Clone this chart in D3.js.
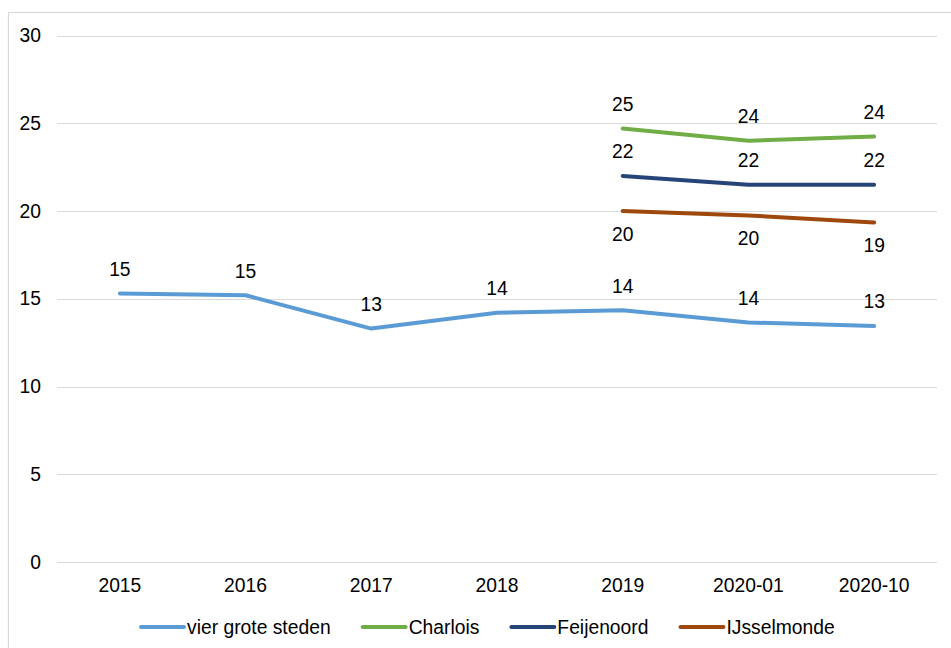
<!DOCTYPE html>
<html>
<head>
<meta charset="utf-8">
<script src="https://cdn.jsdelivr.net/npm/d3@7"></script>
<style>
  html, body { margin: 0; padding: 0; background: #fff; }
  svg { display: block; font-family: "Liberation Sans", Arial, sans-serif; }
</style>
</head>
<body>
<svg id="chart" width="951" height="648"></svg>
<script>
  const categories = ["2015", "2016", "2017", "2018", "2019", "2020-01", "2020-10"];
  const yTicks = [0, 5, 10, 15, 20, 25, 30];

  const vierGroteSteden = [15.3, 15.2, 13.3, 14.2, 14.35, 13.65, 13.45];
  const charlois = [null, null, null, null, 24.7, 24.0, 24.25];
  const feijenoord = [null, null, null, null, 22.0, 21.5, 21.5];
  const ijsselmonde = [null, null, null, null, 20.0, 19.75, 19.35];

  const series = [
    { name: "vier grote steden", values: vierGroteSteden, color: "#5B9BD5", below: false },
    { name: "Charlois", values: charlois, color: "#70AD47", below: false },
    { name: "Feijenoord", values: feijenoord, color: "#264478", below: false },
    { name: "IJsselmonde", values: ijsselmonde, color: "#9E480E", below: true }
  ];

  const svg = d3.select("#chart");
  const fontSize = 19.3;

  // chart frame (only left and top edges fall inside the picture)
  svg.append("rect")
    .attr("x", 8.5).attr("y", 12.5)
    .attr("width", 960).attr("height", 660)
    .attr("fill", "none")
    .attr("stroke", "#d9d9d9")
    .attr("stroke-width", 1.2);

  const x = d3.scaleBand().domain(categories).range([57, 937]);
  const y = d3.scaleLinear().domain([0, 30]).range([562, 35.5]);

  // gridlines
  svg.append("g")
    .selectAll("line")
    .data(yTicks)
    .join("line")
    .attr("x1", 57).attr("x2", 937)
    .attr("y1", d => Math.round(y(d)) + 0.5)
    .attr("y2", d => Math.round(y(d)) + 0.5)
    .attr("stroke", "#d9d9d9")
    .attr("stroke-width", 1);

  // y axis labels
  const yAxis = svg.append("g")
    .attr("transform", "translate(41,0)")
    .call(d3.axisLeft(y).tickValues(yTicks).tickSize(0).tickPadding(0));
  yAxis.select(".domain").remove();
  yAxis.selectAll("text")
    .attr("font-size", fontSize)
    .attr("font-family", "Liberation Sans, Arial, sans-serif")
    .attr("fill", "#000");

  // x axis labels
  const xAxis = svg.append("g")
    .attr("transform", "translate(0,562)")
    .call(d3.axisBottom(x).tickSize(0).tickPadding(16));
  xAxis.select(".domain").remove();
  xAxis.selectAll("text")
    .attr("font-size", fontSize)
    .attr("font-family", "Liberation Sans, Arial, sans-serif")
    .attr("fill", "#000");

  const cx = c => x(c) + x.bandwidth() / 2;

  const line = d3.line()
    .defined(d => d.v != null)
    .x(d => cx(d.c))
    .y(d => y(d.v));

  series.forEach(s => {
    const pts = categories.map((c, i) => ({ c, v: s.values[i] }));
    svg.append("path")
      .datum(pts)
      .attr("d", line)
      .attr("fill", "none")
      .attr("stroke", s.color)
      .attr("stroke-width", 4)
      .attr("stroke-linecap", "round")
      .attr("stroke-linejoin", "round");

    svg.append("g")
      .selectAll("text")
      .data(pts.filter(d => d.v != null))
      .join("text")
      .attr("x", d => cx(d.c))
      .attr("y", d => y(d.v) + (s.below ? 23 : -24))
      .attr("text-anchor", "middle")
      .attr("dominant-baseline", "central")
      .attr("font-size", fontSize)
      .attr("fill", "#000")
      .text(d => Math.round(d.v));
  });

  // legend
  const legend = svg.append("g").attr("transform", "translate(140,627)");
  let lx = 0;
  series.forEach(s => {
    const item = legend.append("g").attr("transform", `translate(${lx},0)`);
    item.append("line")
      .attr("x1", 1).attr("x2", 44)
      .attr("y1", 0).attr("y2", 0)
      .attr("stroke", s.color)
      .attr("stroke-width", 4)
      .attr("stroke-linecap", "round");
    const t = item.append("text")
      .attr("x", 47)
      .attr("y", 0)
      .attr("dominant-baseline", "central")
      .attr("font-size", fontSize)
      .attr("fill", "#000")
      .text(s.name);
    lx += 47 + t.node().getComputedTextLength() + 31;
  });
</script>
</body>
</html>
